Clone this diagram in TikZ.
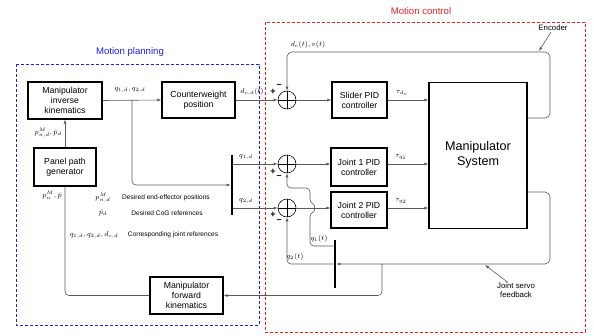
\documentclass[tikz,border=0pt]{standalone}
\usepackage{fontspec}
\setmainfont{Liberation Sans}
\usetikzlibrary{arrows.meta,calc}

\definecolor{wire}{HTML}{5A5A5A}
\definecolor{planblue}{HTML}{1F1FE6}
\definecolor{ctrlred}{HTML}{E62222}

\tikzset{
  block/.style={draw, line width=1.1pt, align=center, inner sep=0pt,
    font=\fontsize{8.7}{10}\selectfont},
  sumj/.style={circle, draw, line width=0.6pt, minimum size=18pt, inner sep=0pt,
    path picture={\draw[line width=0.6pt]
      (path picture bounding box.north) -- (path picture bounding box.south)
      (path picture bounding box.west) -- (path picture bounding box.east);}},
  bar/.style={fill=black, inner sep=0pt, minimum width=2.2pt},
  conn/.style={draw=wire, line width=0.6pt},
  arr/.style={conn, -{Latex[length=4pt,width=3pt]}},
  sig/.style={font=\fontsize{7.3}{8}\selectfont, inner sep=1pt},
  sgn/.style={font=\bfseries\fontsize{9}{9}\selectfont, inner sep=0pt},
  legend/.style={font=\fontsize{6.6}{7.5}\selectfont, inner sep=0pt},
  legmath/.style={font=\fontsize{7.3}{8}\selectfont, inner sep=0pt},
  note/.style={font=\fontsize{7.8}{8.8}\selectfont, align=center, inner sep=0pt},
  region/.style={line width=1pt, dash pattern=on 3pt off 2pt},
}

\begin{document}
\begin{tikzpicture}[x=1pt, y=-1pt]
\useasboundingbox (0,0) rectangle (594,335);

% regions
\draw[region, planblue] (16,64) rectangle (259,325);
\draw[region, ctrlred] (265,22) rectangle (585,332);
\node[text=planblue, font=\fontsize{9.6}{11}\selectfont] (tplan) at (130,52) {Motion planning};
\node[text=ctrlred, font=\fontsize{9.6}{11}\selectfont] (tctrl) at (421,11) {Motion control};

% blocks
\node[block, minimum width=74pt, minimum height=37pt] (ik) at (65,100.5) {Manipulator\\inverse\\kinematics};
\node[block, minimum width=62pt, minimum height=38pt] (ppg) at (65,167) {Panel path\\generator};
\node[block, minimum width=73pt, minimum height=36pt] (cw) at (198.5,100) {Counterweight\\position};
\node[block, minimum width=55pt, minimum height=36pt] (spid) at (359.5,100) {Slider PID\\controller};
\node[block, minimum width=56pt, minimum height=38pt] (j1) at (359,167) {Joint 1 PID\\controller};
\node[block, minimum width=56pt, minimum height=36pt] (j2) at (359,210) {Joint 2 PID\\controller};
\node[block, minimum width=98pt, minimum height=146pt, anchor=north] (ms) at (478,82) {};
\node[font=\fontsize{12.6}{15}\selectfont, align=center] (mstxt) at (478,155) {Manipulator\\System};
\node[block, minimum width=73pt, minimum height=37pt] (mfk) at (186.5,295.5) {Manipulator\\forward\\kinematics};

% summing junctions and their signs
\node[sumj] (s0) at (287,100) {};
\node[sumj] (s1) at (287,164) {};
\node[sumj] (s2) at (287,208) {};
\node[sgn] (s0p) at (273,92) {+};
\node[sgn] (s0m) at (279,86) {--};
\node[sgn] (s1p) at (273,172) {+};
\node[sgn] (s1m) at (279,177.5) {--};
\node[sgn] (s2p) at (273,215) {+};
\node[sgn] (s2m) at (279,221) {--};

% reference split bar and measured joint bar
\node[bar, minimum height=60pt] (bar1) at (232,185) {};
\node[bar, minimum height=48pt] (bar2) at (335,264) {};

% bend points
\coordinate (br) at (132,100);
\coordinate (encR) at (550,52);
\coordinate (jsR) at (550,264);
\coordinate (fbk) at (382,264);

% planning chain
\draw[arr] (ppg.north) -- (ik.south);
\node[sig, anchor=east] (lpd) at (63,133) {$p^M_{n,d},\bar p_d$};
\draw[arr] (ik.east) -- (cw.west);
\node[sig] (lq) at (130,90) {$q_{1,d},q_{2,d}$};
\draw[arr, rounded corners=4pt] (br) |- (bar1.west);
\draw[arr] (bar1.east |- s1) -- (s1.west);
\node[sig] (lq1) at (246,157) {$q_{1,d}$};
\draw[arr] (bar1.east |- s2) -- (s2.west);
\node[sig] (lq2) at (246,201) {$q_{2,d}$};
\draw[arr] (cw.east) -- (s0.west);
\node[sig] (ldc) at (252,92) {$d_{c,d}(t)$};

% control loops
\draw[arr] (s0.east) -- (spid.west);
\draw[arr] (spid.east) -- (ms.west |- spid.east);
\node[sig] (lt0) at (402,93) {$\tau_{d_c}$};
\draw[arr] (s1.east) -- (j1.west |- s1.east);
\draw[arr] (j1.east |- s1.east) -- (ms.west |- s1.east);
\node[sig] (lt1) at (401,157) {$\tau_{q_1}$};
\draw[arr] (s2.east) -- (j2.west |- s2.east);
\draw[arr] (j2.east |- s2.east) -- (ms.west |- s2.east);
\node[sig] (lt2) at (401,201) {$\tau_{q_2}$};

% encoder feedback of the slider
\draw[arr, rounded corners=5pt] (ms.east |- 0,118) -| (encR) -| (s0.north);
\node[sig] (lenc) at (308,45) {$d_c(t),v(t)$};
\node[note] (tenc) at (553,28) {Encoder};
\draw[arr] (tenc.south) ++(-2,1) coordinate (encA) (encA) -- (539,51);

% joint servo feedback
\draw[arr, rounded corners=5pt] (ms.east |- 0,192) -| (jsR) -- (bar2.east |- jsR);
\node[note] (tjs) at (516,290) {Joint servo\\feedback};
\draw[arr] (tjs.north) ++(-8,0) coordinate (jsA) (jsA) -- (485,265);
\draw[arr, rounded corners=4pt] (bar2.west |- 0,264) -| (s2.south);
\node[sig] (lq2t) at (295,257) {$q_2(t)$};
\draw[arr, rounded corners=4pt] (bar2.west |- 0,246) -- (310,246) -- (310,213)
  .. controls (315,211) and (315,205) .. (310,203) -- (310,188) -| (s1.south);
\node[sig] (lq1t) at (319,239) {$q_1(t)$};

% forward kinematics back to the path generator
\draw[arr, rounded corners=4pt] (fbk) |- (mfk.east);
\draw[conn, rounded corners=4pt] (mfk.west) -| (ppg.south);
\node[sig, anchor=east] (lpn) at (63,195) {$p^M_{n},\bar p$};

% legend
\node[legmath] (k1) at (103,198) {$p^M_{n,d}$};
\node[legend] (k1t) at (166,198) {Desired end-effector positions};
\node[legmath] (k2) at (103,213) {$\bar p_d$};
\node[legend] (k2t) at (167,213) {Desired CoG references};
\node[legmath] (k3) at (94,235) {$q_{1,d},q_{2,d},d_{c,d}$};
\node[legend] (k3t) at (173,235) {Corresponding joint references};
\end{tikzpicture}
\end{document}
